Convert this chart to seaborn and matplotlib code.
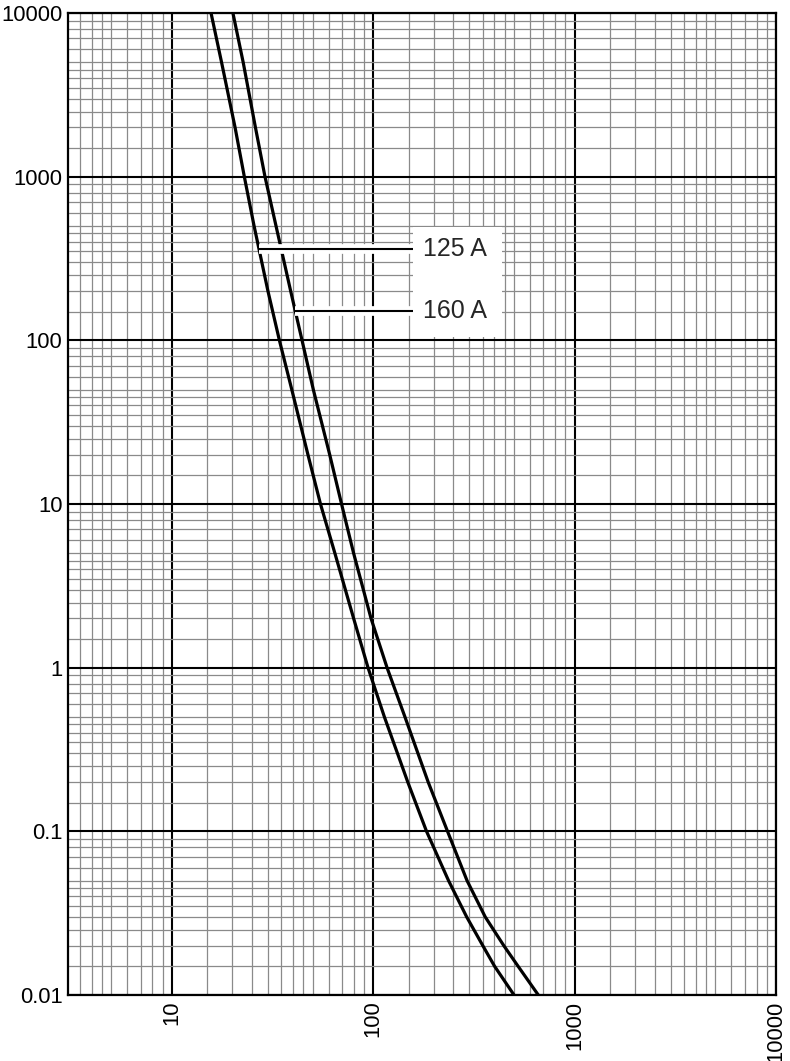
import pandas as pd
import matplotlib
matplotlib.use('Agg')
import matplotlib.pyplot as plt
import matplotlib.patheffects as pe
from matplotlib.patches import Rectangle
from matplotlib.ticker import LogLocator, FixedLocator, FixedFormatter, NullFormatter
import seaborn as sns

# time-current curves (time in s, current in A)
time_s = [10000, 5000, 2000, 1000, 500, 200, 100, 50, 20, 10, 5, 2, 1, 0.5, 0.2, 0.1,
          0.05, 0.03, 0.02, 0.015, 0.01]
current_125 = [15.65, 17.65, 20.6, 22.9, 25.6, 30.0, 34.2, 39.4, 47.4, 54.7, 64.5, 79.9, 94.2,
               113.6, 148.4, 183.9, 236.5, 291.0, 350.2, 400.2, 500]
current_160 = [20.1, 22.6, 26.0, 29.0, 32.9, 38.9, 44.3, 50.4, 60.8, 69.6, 79.9, 97.5, 117.1,
               143.7, 187.4, 233.8, 292.2, 359.8, 445.2, 523.6, 660]

ratings = ['125 A', '160 A']
label_time = [363, 152]
label_start = [27.0, 41.0]
label_end = 157
label_text_x = 176

x_ticks = [10, 100, 1000, 10000]
x_tick_labels = ['10', '100', '1000', '10000']
y_ticks = [0.01, 0.1, 1, 10, 100, 1000, 10000]
y_tick_labels = ['0.01', '0.1', '1', '10', '100', '1000', '10000']

sns.set_style('white')
plt.rcParams['font.family'] = ['Liberation Sans', 'DejaVu Sans']

df = pd.concat([
    pd.DataFrame({'current': current_125, 'time': time_s, 'rating': ratings[0]}),
    pd.DataFrame({'current': current_160, 'time': time_s, 'rating': ratings[1]}),
], ignore_index=True)

fig = plt.figure(figsize=(7.9, 10.61), dpi=100)
ax = fig.add_axes([0.0861, 0.0622, 0.8962, 0.9255])

sns.lineplot(data=df, x='current', y='time', hue='rating', palette=['black', 'black'],
             estimator=None, sort=False, legend=False, linewidth=2.3, ax=ax, zorder=2,
             solid_joinstyle='round')

ax.set_xscale('log')
ax.set_yscale('log')
ax.set_xlim(3.05, 10000)
ax.set_ylim(0.01, 10000)
ax.set_xlabel('')
ax.set_ylabel('')

subs = [1.5, 2, 2.5, 3, 3.5, 4, 4.5, 5, 6, 7, 8, 9]
for axis, ticks, labels in [(ax.xaxis, x_ticks, x_tick_labels), (ax.yaxis, y_ticks, y_tick_labels)]:
    axis.set_major_locator(FixedLocator(ticks))
    axis.set_major_formatter(FixedFormatter(labels))
    axis.set_minor_locator(LogLocator(base=10, subs=subs, numticks=60))
    axis.set_minor_formatter(NullFormatter())

ax.set_axisbelow(True)
ax.grid(which='major', color='black', linewidth=1.5)
ax.grid(which='minor', color='#8a8a8a', linewidth=0.9)
ax.tick_params(which='both', length=0, labelsize=15.8, colors='black')
ax.tick_params(axis='x', pad=4, labelrotation=90)
ax.tick_params(axis='y', pad=4)

for sp in ax.spines.values():
    sp.set_color('black')
    sp.set_linewidth(1.6)
    sp.set_visible(True)

# white panel behind the labels
ax.add_patch(Rectangle((0.487, 0.670), 0.126, 0.112, transform=ax.transAxes,
                       facecolor='white', edgecolor='none', zorder=2.6))

halo = [pe.withStroke(linewidth=7, foreground='white', capstyle='butt')]
for name, t, x0 in zip(ratings, label_time, label_start):
    ax.plot([x0, label_end], [t, t], color='black', linewidth=1.5,
            solid_capstyle='butt', path_effects=halo, zorder=2.5)
    ax.text(label_text_x, t, name, fontsize=18, va='center', ha='left', zorder=4)

fig.savefig('out.png', dpi=100)
